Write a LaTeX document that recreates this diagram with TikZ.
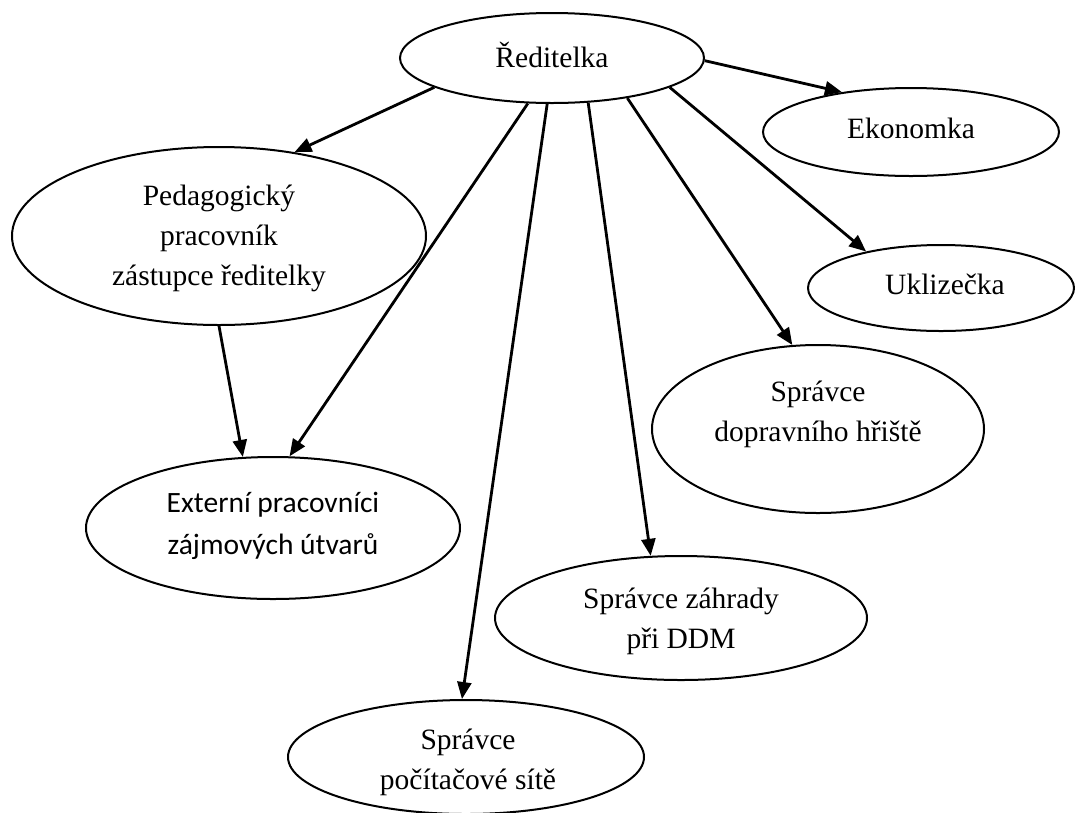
\documentclass[tikz,border=0pt]{standalone}
\usepackage{fontspec}
\setmainfont{Liberation Serif}
\newfontfamily\calfont{Carlito}
\usetikzlibrary{shapes.geometric,arrows.meta}
\begin{document}
\begin{tikzpicture}[x=1pt,y=-1pt,
  box/.style={ellipse,draw,line width=2pt,inner sep=0pt},
  lbl/.style={align=center,font=\fontsize{29.5pt}{40pt}\selectfont,inner sep=0pt},
  arr/.style={line width=2.8pt,-{Triangle[length=17pt,width=14pt]}}]
\useasboundingbox (0,0) rectangle (1075,812);
\clip (0,0) rectangle (1075,812);
% ellipses
\node[box,minimum width=304pt,minimum height=90pt] (red) at (552,58) {};
\node[box,minimum width=296pt,minimum height=88pt] (eko) at (911,132) {};
\node[box,minimum width=266pt,minimum height=86pt] (ukl) at (941,288) {};
\node[box,minimum width=414pt,minimum height=178pt] (ped) at (219,236) {};
\node[box,minimum width=332pt,minimum height=168pt] (dop) at (818,429) {};
\node[box,minimum width=374pt,minimum height=142pt] (ext) at (273,528) {};
\node[box,minimum width=372pt,minimum height=124pt] (zah) at (681,618) {};
\node[box,minimum width=356pt,minimum height=114pt] (poc) at (466,757) {};
% texts
\node[lbl] (tred) at (552,55) {Ředitelka};
\node[lbl] (teko) at (911,128) {Ekonomka};
\node[lbl] (tukl) at (945,284) {Uklizečka};
\node[lbl] (tped) at (219,238) {Pedagogický\\pracovník\\zástupce ředitelky};
\node[lbl] (tdop) at (818,414) {Správce\\dopravního hřiště};
\node[lbl,font=\calfont\fontsize{29.5pt}{42pt}\selectfont] (text) at (273,526) {Externí pracovníci\\zájmových útvarů};
\node[lbl] (tzah) at (681,621) {Správce záhrady\\při DDM};
\node[lbl] (tpoc) at (468,762) {Správce\\počítačové sítě};
% connectors
\draw[arr] (red.-1) -- (eko.150);
\draw[arr] (red.-14) -- (ukl.154);
\draw[arr] (red.-28) -- (dop.107);
\draw[arr] (red.-51) -- (zah.116);
\draw[arr] (red.-96) -- (poc.94);
\draw[arr] (red.-118) -- (ext.77);
\draw[arr] (red.-166) -- (ped.48);
\draw[arr] (ped.-90) -- (ext.113);
\end{tikzpicture}
\end{document}
